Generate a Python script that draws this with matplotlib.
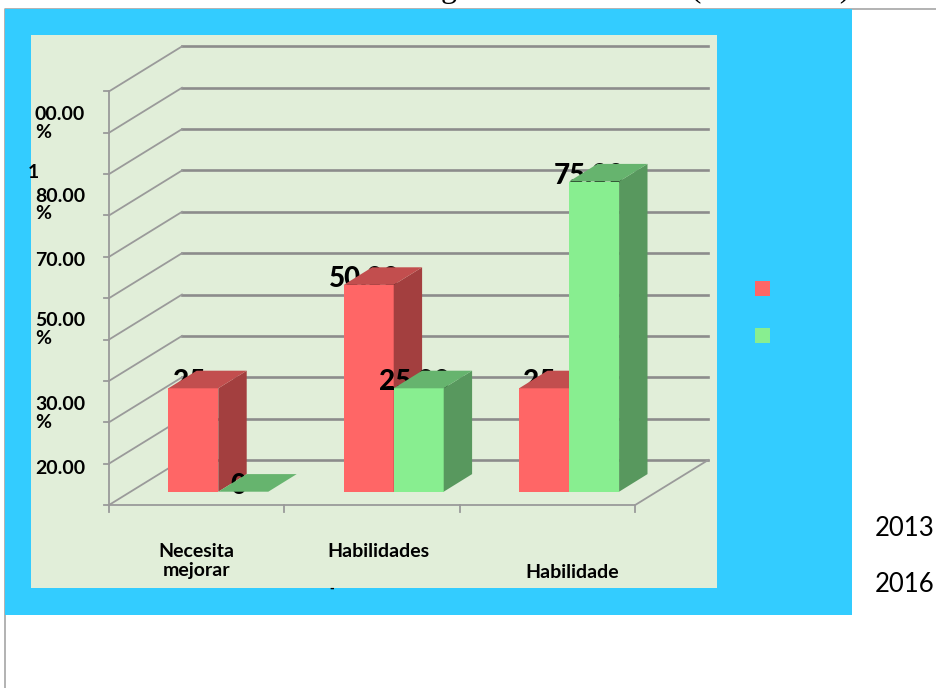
import matplotlib
matplotlib.use("Agg")
import matplotlib.pyplot as plt
from matplotlib.patches import Rectangle, Polygon
from matplotlib import transforms

# datos
categorias = ["Necesita\nmejorar", "Habilidades", "Habilidade"]
anos = ["2013", "2016"]
valores_2013 = [25, 50, 25]
valores_2016 = [0, 25, 75]
etiquetas_2013 = ["25", "50.00", "25"]
etiquetas_2016 = ["0", "25.00", "75.00"]
rotulos_eje = ["00.00\n%", "1", "80.00\n%", "70.00", "50.00\n%", "30.00\n%", "20.00"]
titulo = "Gráfico 1. Resultados generales del taller (2013-2016)"

# colores: frente, tapa, lateral
cores_2013 = ("#FF6666", "#C24E4E", "#A33F3F")
cores_2016 = ("#88EE90", "#66B46E", "#58985E")
AZUL = "#33CCFF"
FONDO = "#E1EED9"
GRIS = "#8C8C8C"

W, H = 937, 688
# escala del grafico (pixeles por categoria / por unidad de valor)
X0, DX = 218.3, 175.4
Y0, DY = 491.7, 4.136
ancho = 50 / DX
prof = (28.4 / DX, 17.6 / DY)       # fondo de cada barra
pared = (51.4 / DX, 31.7 / DY)      # pared del fondo
frente = (-21.6 / DX, -13.3 / DY)   # borde delantero del piso

fig = plt.figure(figsize=(W / 100, H / 100), dpi=100)

bg = fig.add_axes([0, 0, 1, 1])
bg.set_xlim(0, W)
bg.set_ylim(H, 0)
bg.axis("off")

# marco, fondo azul y area del grafico
bg.plot([5.5, 5.5, W], [H, 8.5, 8.5], color="#A6A6A6", lw=1.2, zorder=1)
bg.add_patch(Rectangle((5.5, 9), 846.5, 606, fc=AZUL, ec="none", zorder=2))
bg.add_patch(Rectangle((31, 35), 685.7, 552.7, fc=FONDO, ec="none", zorder=3))
bg.text(850, -3, titulo, ha="right", va="baseline", fontsize=23,
        family="Liberation Serif", zorder=1)

# rotulos del eje vertical
pos_rotulos = [(35, 106), (28, 164.5), (35, 187.5), (35, 252.5), (35, 312.5), (35, 396), (35, 459.5)]
for txt, (x, y) in zip(rotulos_eje, pos_rotulos):
    bg.text(x, y, txt, ha="left", va="top", fontsize=14, fontweight="bold",
            family="Lato", linespacing=1.05, zorder=5)

# rotulos de categoria
pos_cat = [(196.7, 543), (378.5, 543), (572, 564)]
for txt, (x, y) in zip(categorias, pos_cat):
    bg.text(x, y, txt, ha="center", va="top", fontsize=14, fontweight="bold",
            family="Lato", linespacing=1.12, zorder=5)
bg.text(332, 592, "-", ha="center", va="baseline", fontsize=8, fontweight="bold", zorder=5)

# leyenda
for i, (ano, c) in enumerate(zip(anos, [cores_2013[0], cores_2016[0]])):
    bg.add_patch(Rectangle((755, 281 + 47 * i), 15, 15, fc=c, ec="none", zorder=5))
    bg.text(875, 536 + 56 * i, ano, ha="left", va="baseline", fontsize=18.5,
            family="Lato", zorder=5)

# ejes del grafico en unidades de categoria / valor
ax = fig.add_axes([0, 0, 1, 1])
ax.patch.set_visible(False)
ax.axis("off")
ax.set_xlim(-X0 / DX, (W - X0) / DX)
ax.set_ylim(-(H - Y0) / DY, Y0 / DY)

xl, xr = -0.5, 2.5
for v in range(0, 101, 10):
    ax.plot([xl + pared[0], xr + pared[0]], [v + pared[1]] * 2, color=GRIS, lw=1.9, zorder=1)
    ax.plot([xl + frente[0], xl + pared[0]], [v + frente[1], v + pared[1]],
            color="#9A9A9A", lw=1.3, zorder=1)
    ax.plot([xl + frente[0] - 5 / DX, xl + frente[0]], [v + frente[1]] * 2,
            color="#9A9A9A", lw=1.3, zorder=1)
ax.plot([xl + frente[0]] * 2, [frente[1], 100 + frente[1]], color="#9A9A9A", lw=1.3, zorder=1)
ax.plot([xl + frente[0], xr + frente[0], xr + pared[0]],
        [frente[1], frente[1], pared[1]], color="#9A9A9A", lw=1.3, zorder=1)
for xt in [-0.5, 0.5, 1.5, 2.5]:
    ax.plot([xt + frente[0]] * 2, [frente[1], frente[1] - 7 / DY], color="#9A9A9A", lw=1.3, zorder=1)

off_etq = transforms.offset_copy(ax.transData, fig=fig, x=-4.5, y=-2, units="dots")


def barras(xs, vals, etiquetas, cores, z):
    f, t, s = cores
    for x, v, e in zip(xs, vals, etiquetas):
        ax.text(x + ancho / 2, v, e, transform=off_etq, ha="center", va="baseline",
                fontsize=20, fontweight="black", family="Lato", zorder=z)
    for x, v in zip(xs, vals):
        ax.bar(x, v, width=ancho, align="edge", color=f, linewidth=0, zorder=z + 1)
        x2 = x + ancho
        ax.add_patch(Polygon([(x2, 0), (x2 + prof[0], prof[1]), (x2 + prof[0], v + prof[1]), (x2, v)],
                             fc=s, ec="none", zorder=z + 1))
        ax.add_patch(Polygon([(x, v), (x2, v), (x2 + prof[0], v + prof[1]), (x + prof[0], v + prof[1])],
                             fc=t, ec="none", zorder=z + 1))


idx = range(len(categorias))
barras([i - ancho for i in idx], valores_2013, etiquetas_2013, cores_2013, 3)
barras([i for i in idx], valores_2016, etiquetas_2016, cores_2016, 5)

fig.savefig("out.png", dpi=100)
